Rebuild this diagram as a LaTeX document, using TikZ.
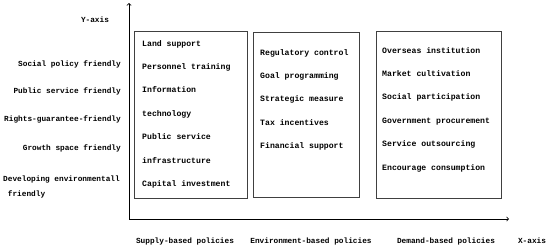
\documentclass[tikz,border=0pt]{standalone}
\usepackage{fontspec}
\setmainfont{Liberation Mono}
\usetikzlibrary{arrows,positioning}

\begin{document}
\begin{tikzpicture}[
  x=1bp, y=-1bp,
  frame/.style={rectangle, draw=black!75, line width=0.7pt, anchor=north west, inner sep=0pt},
  items/.style={anchor=north west, align=left, inner sep=0pt, font=\bfseries\fontsize{8.2}{23.5}\selectfont},
  level/.style={anchor=east, align=right, inner sep=0pt, font=\bfseries\fontsize{7.8}{15}\selectfont},
  group/.style={inner sep=0pt, font=\bfseries\fontsize{7.8}{10}\selectfont},
  axis/.style={->,>=to,line width=0.8pt}
]
\useasboundingbox (0,0) rectangle (550,247);

% Axes
\coordinate (origin) at (129,219);
\coordinate (ytip) at (129,3);
\coordinate (xtip) at (509,219);
\draw[axis] (origin) -- (ytip);
\draw[axis] (origin) -- (xtip);
\node[group] (ylabel) at (95,20) {Y-axis};
\node[group] (xlabel) at (532,241) {X-axis};

% Levels on the Y axis
\node[level] (social) at (121,64) {Social policy friendly};
\node[level] (public) at (121,91) {Public service friendly};
\node[level] (rights) at (121,119) {Rights-guarantee-friendly};
\node[level] (growth) at (121,148) {Growth space friendly};
\node[level, anchor=north west, align=left] (develop) at (3,176) {Developing environmentall\\\hspace{0.6em}friendly};

% Policy boxes
\node[frame, minimum width=113bp, minimum height=167bp] (supply) at (134,31) {};
\node[frame, minimum width=106bp, minimum height=165bp] (environ) at (253,32) {};
\node[frame, minimum width=125bp, minimum height=167bp] (demand) at (376,31) {};

\node[items] (supplylist) at (142,40) {Land support\\Personnel training\\Information\\technology\\Public service\\infrastructure\\Capital investment};
\node[items] (environlist) at (260,49) {Regulatory control\\Goal programming\\Strategic measure\\Tax incentives\\Financial support};
\node[items] (demandlist) at (382,47) {Overseas institution\\Market cultivation\\Social participation\\Government procurement\\Service outsourcing\\Encourage consumption};

% Groups on the X axis
\node[group] (supplyname) at (185,241) {Supply-based policies};
\node[group] (environname) at (311,241) {Environment-based policies};
\node[group] (demandname) at (446,241) {Demand-based policies};

\end{tikzpicture}
\end{document}
